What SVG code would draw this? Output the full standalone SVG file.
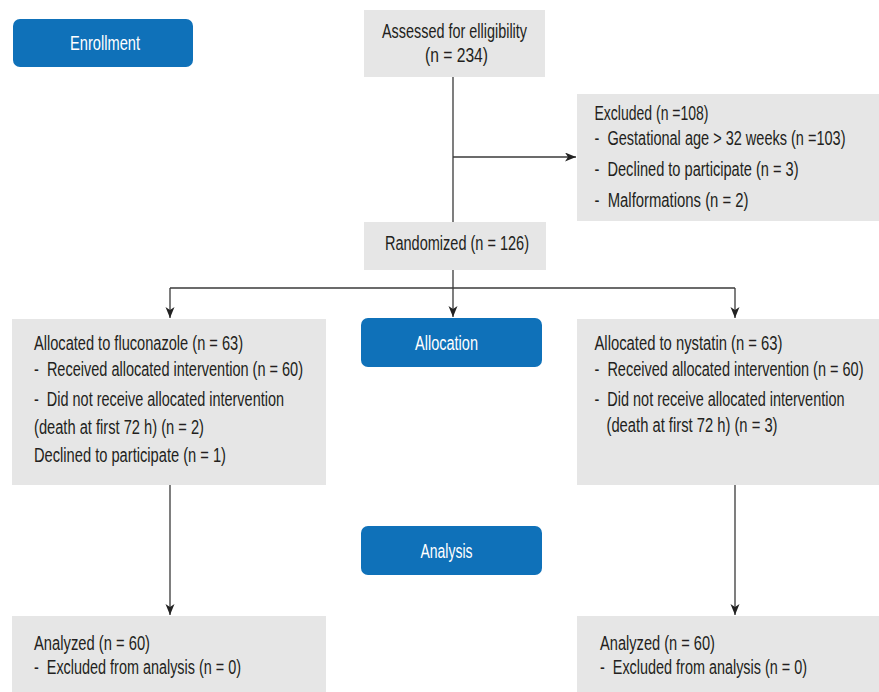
<svg xmlns="http://www.w3.org/2000/svg" width="879" height="692" viewBox="0 0 879 692">
<defs>
<style>
.box{fill:#e6e6e6}
.btn{fill:#0f71b9}
.t{font-family:"Liberation Sans",Arial,sans-serif;font-size:20px;fill:#231f20}
.w{font-family:"Liberation Sans",Arial,sans-serif;font-size:20px;fill:#ffffff}
.c{stroke:#3a3a3a;stroke-width:1.3;fill:none}
</style>
<marker id="ah" markerUnits="userSpaceOnUse" markerWidth="12" markerHeight="10" refX="11" refY="4.5" orient="auto">
<path d="M0,0 L11,4.5 L0,9 L3,4.5 z" fill="#222"/>
</marker>
</defs>
<rect width="879" height="692" fill="#ffffff"/>
<g id="connectors">
<line class="c" x1="453" y1="77" x2="453" y2="222"/>
<line class="c" x1="453" y1="157" x2="576" y2="157" marker-end="url(#ah)"/>
<line class="c" x1="453" y1="270" x2="453" y2="317" marker-end="url(#ah)"/>
<line class="c" x1="170" y1="288" x2="735" y2="288"/>
<line class="c" x1="170" y1="288" x2="170" y2="318" marker-end="url(#ah)"/>
<line class="c" x1="735" y1="288" x2="735" y2="318" marker-end="url(#ah)"/>
<line class="c" x1="170" y1="485" x2="170" y2="615" marker-end="url(#ah)"/>
<line class="c" x1="735" y1="485" x2="735" y2="615" marker-end="url(#ah)"/>
</g>
<g id="enrollment">
<rect class="btn" x="13" y="19" width="180" height="48" rx="7"/>
<text class="w" x="105" y="50" text-anchor="middle" textLength="70" lengthAdjust="spacingAndGlyphs">Enrollment</text>
</g>
<g id="assessed">
<rect class="box" x="364" y="10" width="181" height="67"/>
<text class="t" x="454.5" y="38" text-anchor="middle" textLength="145" lengthAdjust="spacingAndGlyphs">Assessed for elligibility</text>
<text class="t" x="456.5" y="62" text-anchor="middle" textLength="63" lengthAdjust="spacingAndGlyphs">(n = 234)</text>
</g>
<g id="excluded">
<rect class="box" x="577" y="94" width="302" height="127"/>
<text class="t" x="594.5" y="120" textLength="114" lengthAdjust="spacingAndGlyphs">Excluded (n =108)</text>
<text class="t" x="594.5" y="145" textLength="251" lengthAdjust="spacingAndGlyphs">-&#160;&#160;Gestational age &gt; 32 weeks (n =103)</text>
<text class="t" x="594.5" y="176" textLength="204" lengthAdjust="spacingAndGlyphs">-&#160;&#160;Declined to participate (n = 3)</text>
<text class="t" x="594.5" y="207" textLength="154" lengthAdjust="spacingAndGlyphs">-&#160;&#160;Malformations (n = 2)</text>
</g>
<g id="randomized">
<rect class="box" x="364" y="222" width="182" height="48"/>
<text class="t" x="457" y="250" text-anchor="middle" textLength="144" lengthAdjust="spacingAndGlyphs">Randomized (n = 126)</text>
</g>
<g id="fluconazole">
<rect class="box" x="12" y="319" width="314" height="166"/>
<text class="t" x="34" y="350" textLength="209" lengthAdjust="spacingAndGlyphs">Allocated to fluconazole (n = 63)</text>
<text class="t" x="34" y="376" textLength="269" lengthAdjust="spacingAndGlyphs">-&#160;&#160;Received allocated intervention (n = 60)</text>
<text class="t" x="34" y="406" textLength="250" lengthAdjust="spacingAndGlyphs">-&#160;&#160;Did not receive allocated intervention</text>
<text class="t" x="34" y="434" textLength="170" lengthAdjust="spacingAndGlyphs">(death at first 72 h) (n = 2)</text>
<text class="t" x="34" y="462" textLength="192" lengthAdjust="spacingAndGlyphs">Declined to participate (n = 1)</text>
</g>
<g id="allocation">
<rect class="btn" x="361" y="318" width="181" height="49" rx="7"/>
<text class="w" x="446.5" y="350" text-anchor="middle" textLength="63" lengthAdjust="spacingAndGlyphs">Allocation</text>
</g>
<g id="nystatin">
<rect class="box" x="577" y="319" width="302" height="166"/>
<text class="t" x="594.5" y="350" textLength="188" lengthAdjust="spacingAndGlyphs">Allocated to nystatin (n = 63)</text>
<text class="t" x="594.5" y="376" textLength="269" lengthAdjust="spacingAndGlyphs">-&#160;&#160;Received allocated intervention (n = 60)</text>
<text class="t" x="594.5" y="406" textLength="250" lengthAdjust="spacingAndGlyphs">-&#160;&#160;Did not receive allocated intervention</text>
<text class="t" x="606.5" y="432" textLength="171" lengthAdjust="spacingAndGlyphs">(death at first 72 h) (n = 3)</text>
</g>
<g id="analysis">
<rect class="btn" x="361" y="526" width="181" height="49" rx="7"/>
<text class="w" x="446.5" y="558" text-anchor="middle" textLength="52" lengthAdjust="spacingAndGlyphs">Analysis</text>
</g>
<g id="analyzed-left">
<rect class="box" x="12" y="616" width="314" height="76"/>
<text class="t" x="34" y="650" textLength="116" lengthAdjust="spacingAndGlyphs">Analyzed (n = 60)</text>
<text class="t" x="34" y="674" textLength="207" lengthAdjust="spacingAndGlyphs">-&#160;&#160;Excluded from analysis (n = 0)</text>
</g>
<g id="analyzed-right">
<rect class="box" x="577" y="616" width="302" height="76"/>
<text class="t" x="600" y="650" textLength="115" lengthAdjust="spacingAndGlyphs">Analyzed (n = 60)</text>
<text class="t" x="600" y="674" textLength="207" lengthAdjust="spacingAndGlyphs">-&#160;&#160;Excluded from analysis (n = 0)</text>
</g>
</svg>
